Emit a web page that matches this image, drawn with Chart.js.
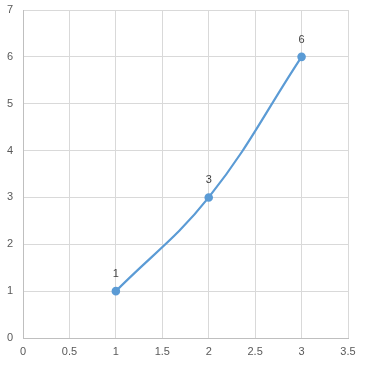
<!DOCTYPE html>
<html>
<head>
<meta charset="utf-8">
<script src="https://cdn.jsdelivr.net/npm/chart.js@4"></script>
<style>
  html, body { margin: 0; padding: 0; background: #fff; }
  #wrap { width: 366px; height: 366px; }
</style>
</head>
<body>
<div id="wrap"><canvas id="c" width="366" height="366"></canvas></div>
<script>
/* data */
const xValues = [1, 2, 3];
const yValues = [1, 3, 6];
const pointLabels = ["1", "3", "6"];

const lineColor = "#5b9bd5";
const gridColor = "#d9d9d9";
const textColor = "#595959";

// draw value labels above each point
const labelPlugin = {
  id: "pointLabels",
  afterDatasetsDraw(chart) {
    const ctx = chart.ctx;
    const meta = chart.getDatasetMeta(0);
    ctx.save();
    ctx.font = "11px 'Liberation Sans', sans-serif";
    ctx.fillStyle = "#404040";
    ctx.textAlign = "center";
    ctx.textBaseline = "middle";
    meta.data.forEach((pt, i) => {
      ctx.fillText(pointLabels[i], pt.x, pt.y - 17);
    });
    ctx.restore();
  }
};

new Chart(document.getElementById("c"), {
  type: "scatter",
  data: {
    datasets: [{
      data: xValues.map((x, i) => ({ x: x, y: yValues[i] })),
      showLine: true,
      borderColor: lineColor,
      backgroundColor: lineColor,
      borderWidth: 2.2,
      pointRadius: 3.2,
      pointHoverRadius: 3.2,
      tension: 0.4
    }]
  },
  options: {
    responsive: false,
    animation: false,
    layout: { padding: { left: 0, top: 10, right: 18, bottom: 0 } },
    plugins: { legend: { display: false }, tooltip: { enabled: false } },
    scales: {
      x: {
        type: "linear",
        min: 0,
        max: 3.5,
        afterFit(axis) { axis.height = 28; axis.paddingRight = 0; axis.paddingLeft = 0; },
        ticks: {
          stepSize: 0.5,
          color: textColor,
          padding: 7,
          callback: (v) => String(v),
          font: { family: "'Liberation Sans', sans-serif", size: 11 }
        },
        grid: { color: gridColor, drawTicks: false },
        border: { color: "#bfbfbf" }
      },
      y: {
        min: 0,
        max: 7,
        afterFit(axis) { axis.width = 23; axis.paddingTop = 0; axis.paddingBottom = 0; },
        ticks: {
          stepSize: 1,
          color: textColor,
          padding: 10,
          callback: (v) => String(v),
          font: { family: "'Liberation Sans', sans-serif", size: 11 }
        },
        grid: { color: gridColor, drawTicks: false },
        border: { color: "#bfbfbf" }
      }
    }
  },
  plugins: [labelPlugin]
});
</script>
</body>
</html>
